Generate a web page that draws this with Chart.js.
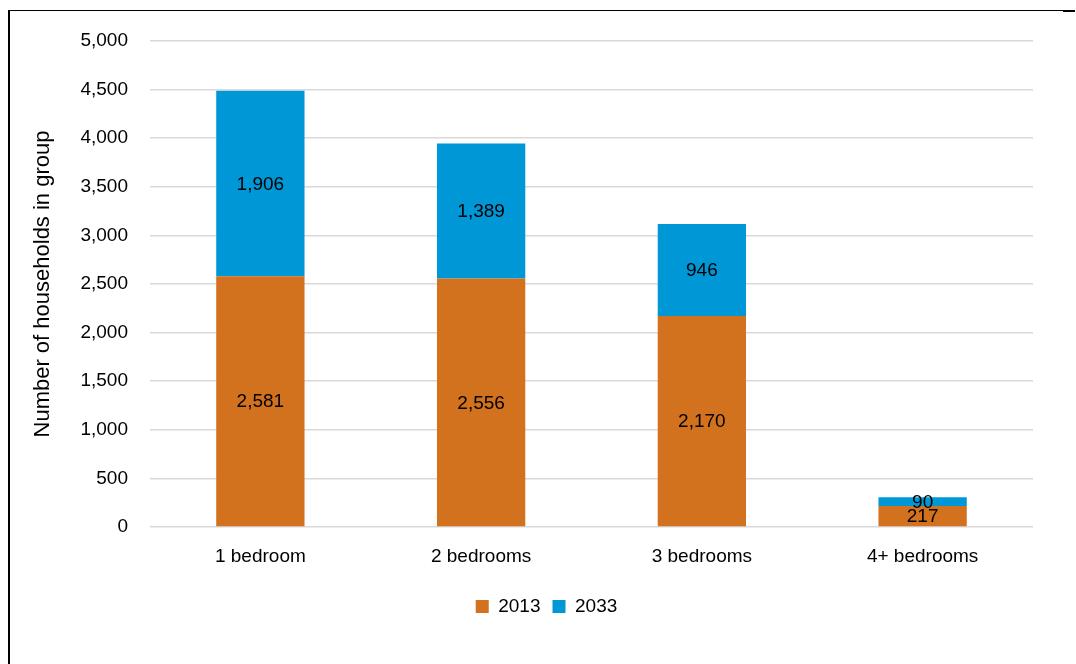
<!DOCTYPE html>
<html>
<head>
<meta charset="utf-8">
<script src="https://cdn.jsdelivr.net/npm/chart.js@4"></script>
<style>
  html, body { margin: 0; padding: 0; background: #fff; }
  #wrap { position: relative; width: 1076px; height: 664px; }
  #frame { position: absolute; left: 8px; top: 10px; width: 1055px; height: 660px;
           border-top: 1px solid #000; border-left: 2px solid #000; }
  #corner { position: absolute; left: 1063px; top: 10px; width: 12px; height: 2px; background: #000; }
</style>
</head>
<body>
<div id="wrap">
  <canvas id="chart" width="1076" height="664"></canvas>
  <div id="frame"></div>
  <div id="corner"></div>
</div>
<script>
const categories = ["1 bedroom", "2 bedrooms", "3 bedrooms", "4+ bedrooms"];
const households2013 = [2581, 2556, 2170, 217];
const households2033 = [1906, 1389, 946, 90];

const FONT = "'Liberation Sans', Arial, sans-serif";
const fmt = (v) => v.toLocaleString("en-US");

// centred value labels inside each stacked segment
const segmentLabels = {
  id: "segmentLabels",
  afterDatasetsDraw(chart) {
    const ctx = chart.ctx;
    ctx.save();
    ctx.font = `19px ${FONT}`;
    ctx.fillStyle = "#000";
    ctx.textAlign = "center";
    ctx.textBaseline = "middle";
    chart.data.datasets.forEach((ds, i) => {
      chart.getDatasetMeta(i).data.forEach((bar, j) => {
        ctx.fillText(fmt(ds.data[j]), bar.x, (bar.y + bar.base) / 2 + 1);
      });
    });
    ctx.restore();
  },
};

// the legend sits a little right of the canvas centre in the original
const legendShift = {
  id: "legendShift",
  afterLayout(chart) {
    chart.legend.left += 15;
    chart.legend.right += 15;
  },
};

Chart.defaults.font.family = FONT;
Chart.defaults.font.size = 19;
Chart.defaults.color = "#000";

new Chart(document.getElementById("chart"), {
  type: "bar",
  data: {
    labels: categories,
    datasets: [
      { label: "2013", data: households2013, backgroundColor: "#D2711E" },
      { label: "2033", data: households2033, backgroundColor: "#0097D7" },
    ],
  },
  options: {
    responsive: false,
    animation: false,
    layout: { padding: { top: 41, right: 43, left: 30, bottom: 38 } },
    datasets: { bar: { categoryPercentage: 1, barPercentage: 0.4 } },
    plugins: {
      legend: {
        position: "bottom",
        labels: { boxWidth: 13, boxHeight: 13, padding: 12, font: { size: 19 } },
      },
      tooltip: { enabled: false },
    },
    scales: {
      x: {
        stacked: true,
        grid: { display: false, drawTicks: false },
        border: { display: false },
        ticks: { padding: 18 },
        afterFit: (s) => { s.height = 58; },
      },
      y: {
        stacked: true,
        min: 0,
        max: 5000,
        grid: { color: "#d9d9d9", lineWidth: 1.5, drawTicks: false },
        border: { display: false },
        ticks: { stepSize: 500, padding: 22, callback: (v) => fmt(v) },
        title: {
          display: true,
          text: "Number of households in group",
          font: { size: 22 },
          padding: { top: 0, bottom: 0 },
        },
        afterFit: (s) => { s.width = 120; },
      },
    },
  },
  plugins: [segmentLabels, legendShift],
});
</script>
</body>
</html>
